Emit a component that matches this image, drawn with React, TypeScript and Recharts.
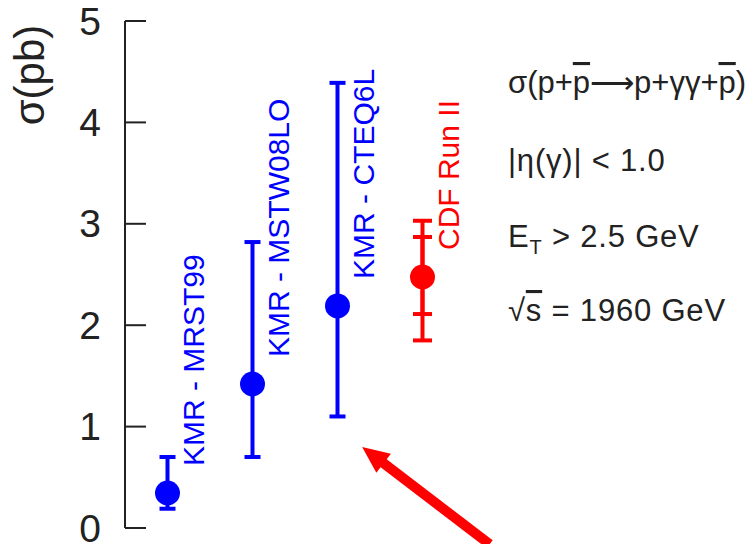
import React from 'react';
import { ScatterChart, Scatter, XAxis, YAxis, ErrorBar, ReferenceLine } from 'recharts';

// KMR predictions
const modelNames = ['KMR - MRST99', 'KMR - MSTW08LO', 'KMR - CTEQ6L'];
const modelPos = [1, 2, 3];
const modelSigma = [0.345, 1.42, 2.19];
const modelLow = [0.19, 0.7, 1.1];
const modelHigh = [0.7, 2.82, 4.39];

// CDF measurement (stat and total)
const cdfNames = ['CDF Run II'];
const cdfPos = [4];
const cdfSigma = [2.475];
const cdfStatLow = [2.11];
const cdfStatHigh = [2.87];
const cdfTotLow = [1.85];
const cdfTotHigh = [3.03];

const yTicks = [0, 1, 2, 3, 4, 5];
const arrowTip = { x: 3.29, y: 0.8 };
const arrowTail = { x: 4.79, y: -0.16 };

const FONT = '"Liberation Sans", Arial, sans-serif';
const BLUE = '#0000ff';
const RED = '#ff0000';

const modelData = modelNames.map((name, i) => ({
  name,
  x: modelPos[i],
  y: modelSigma[i],
  err: [modelSigma[i] - modelLow[i], modelHigh[i] - modelSigma[i]],
}));

const cdfData = cdfNames.map((name, i) => ({
  name,
  x: cdfPos[i],
  y: cdfSigma[i],
  stat: [cdfSigma[i] - cdfStatLow[i], cdfStatHigh[i] - cdfSigma[i]],
  tot: [cdfSigma[i] - cdfTotLow[i], cdfTotHigh[i] - cdfSigma[i]],
}));

const makeDot = (color: string) => (props: any) => {
  const { cx, cy, payload } = props;
  const lx = cx + 26;
  const ly = cy - 27;
  return (
    <g>
      <circle cx={cx} cy={cy} r={12.5} fill={color} />
      <text
        x={lx}
        y={ly}
        dy="0.36em"
        transform={`rotate(-90, ${lx}, ${ly})`}
        fontSize={30}
        fontFamily={FONT}
        fill={color}
      >
        {payload.name}
      </text>
    </g>
  );
};

const YTick = (props: any) => {
  const { x, y, payload } = props;
  return (
    <g>
      <line x1={x} y1={y} x2={x + 21} y2={y} stroke="#222" strokeWidth={2} />
      <text x={x - 24} y={y} dy="0.35em" textAnchor="end" fontSize={39} fontFamily={FONT} fill="#222">
        {payload.value}
      </text>
    </g>
  );
};

const Arrow = (props: any) => {
  const { x1, y1, x2, y2 } = props;
  const dx = x2 - x1;
  const dy = y2 - y1;
  const len = Math.sqrt(dx * dx + dy * dy);
  const ux = dx / len;
  const uy = dy / len;
  const L = 27;
  const W = 12;
  const bx = x1 + ux * L;
  const by = y1 + uy * L;
  const pts = `${x1},${y1} ${bx - uy * W},${by + ux * W} ${bx + uy * W},${by - ux * W}`;
  return (
    <g>
      <line x1={bx - ux * 2} y1={by - uy * 2} x2={x2} y2={y2} stroke={RED} strokeWidth={10} />
      <polygon points={pts} fill={RED} />
    </g>
  );
};

export default function App() {
  const tx = 508;
  return (
    <div style={{ position: 'relative', width: 752, height: 544 }}>
      <style>{'body{margin:0}'}</style>
      <ScatterChart width={752} height={544} margin={{ top: 21, right: 287, bottom: 16, left: 0 }}>
        <XAxis
          type="number"
          dataKey="x"
          domain={[0.5, 4.5]}
          ticks={[]}
          tick={false}
          tickLine={false}
          axisLine={{ stroke: '#222', strokeWidth: 2 }}
          height={0}
        />
        <YAxis
          type="number"
          dataKey="y"
          domain={[0, 5]}
          ticks={yTicks}
          interval={0}
          width={125}
          tickSize={0}
          tickMargin={0}
          tickLine={false}
          axisLine={{ stroke: '#222', strokeWidth: 2 }}
          tick={<YTick />}
        />
        <Scatter data={modelData} isAnimationActive={false} shape={makeDot(BLUE)}>
          <ErrorBar dataKey="err" direction="y" width={8} strokeWidth={4} stroke={BLUE} isAnimationActive={false} />
        </Scatter>
        <Scatter data={cdfData} isAnimationActive={false} shape={makeDot(RED)}>
          <ErrorBar dataKey="tot" direction="y" width={9.5} strokeWidth={4} stroke={RED} isAnimationActive={false} />
          <ErrorBar dataKey="stat" direction="y" width={9.5} strokeWidth={4} stroke={RED} isAnimationActive={false} />
        </Scatter>
        <ReferenceLine
          segment={[arrowTip, arrowTail]}
          ifOverflow="visible"
          shape={<Arrow />}
        />
      </ScatterChart>
      <svg width={752} height={544} style={{ position: 'absolute', left: 0, top: 0, pointerEvents: 'none' }}>
        <text
          x={33}
          y={75}
          dy="0.27em"
          textAnchor="middle"
          transform="rotate(-90, 33, 75)"
          fontSize={42}
          fontFamily={FONT}
          fill="#222"
        >
          σ(pb)
        </text>
        <g fontSize={31} letterSpacing={0.8} fontFamily={FONT} fill="#222">
          <text x={tx} y={93} letterSpacing={0}>
            σ(p+<tspan style={{ textDecoration: 'overline' }}>p</tspan>⟶p+γγ+
            <tspan style={{ textDecoration: 'overline' }}>p</tspan>)
          </text>
          <text x={tx} y={171}>|η(γ)| &lt; 1.0</text>
          <text x={tx} y={247}>
            E<tspan dy={7} fontSize={20}>T</tspan>
            <tspan dy={-7}> &gt; 2.5 GeV</tspan>
          </text>
          <text x={tx} y={321}>
            √<tspan style={{ textDecoration: 'overline' }}>s</tspan> = 1960 GeV
          </text>
        </g>
      </svg>
    </div>
  );
}
